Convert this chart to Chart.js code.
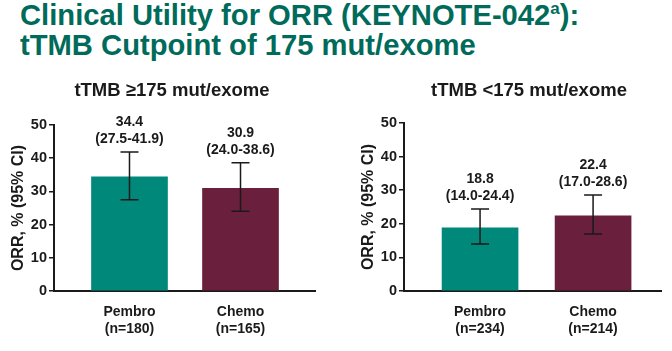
<!DOCTYPE html>
<html>
<head>
<meta charset="utf-8">
<script src="https://cdn.jsdelivr.net/npm/chart.js@4"></script>
<style>
  body { margin: 0; background: #fff; width: 672px; height: 351px; overflow: hidden; position: relative; }
  #title { position: absolute; left: 20px; top: 0px; color: #006b5b; font: bold 29.2px "Liberation Sans", Arial, sans-serif; line-height: 30px; white-space: nowrap; }
  #title sup { font-size: 17px; vertical-align: 11px; line-height: 0; }
  .box { position: absolute; top: 70px; width: 336px; height: 281px; }
</style>
</head>
<body>
<div id="title">Clinical Utility for ORR (KEYNOTE-042<sup>a</sup>):<br>tTMB Cutpoint of 175 mut/exome</div>
<div class="box" style="left:0"><canvas id="highChart"></canvas></div>
<div class="box" style="left:336px"><canvas id="lowChart"></canvas></div>
<script>
const armColors = ["#00897a", "#6a1f3c"];
const armPositions = [1, 2];

const highTitle = "tTMB \u2265175 mut/exome";
const highLabels = [["Pembro", "(n=180)"], ["Chemo", "(n=165)"]];
const highOrr = [34.4, 30.9];
const highLower = [27.5, 24.0];
const highUpper = [41.9, 38.6];

const lowTitle = "tTMB <175 mut/exome";
const lowLabels = [["Pembro", "(n=234)"], ["Chemo", "(n=214)"]];
const lowOrr = [18.8, 22.4];
const lowLower = [14.0, 17.0];
const lowUpper = [24.4, 28.6];

const yTicks = [0, 10, 20, 30, 40, 50];

const font = "'Liberation Sans', Arial, sans-serif";
const ink = "#1a1a1a";

// panel heading, whiskers and the "value (CI)" text above each bar
const errorBars = {
    id: "errorBars",
    afterDatasetsDraw(chart, args, opts) {
        const ctx = chart.ctx;
        const x = chart.scales.x, y = chart.scales.y;
        ctx.save();
        ctx.fillStyle = ink;
        ctx.textAlign = "center";
        ctx.textBaseline = "middle";
        ctx.font = "bold 18.5px " + font;
        ctx.fillText(opts.heading, opts.headingX, 21);

        ctx.strokeStyle = ink;
        ctx.lineWidth = 1.5;
        ctx.font = "bold 14px " + font;
        opts.values.forEach((v, i) => {
            const cx = x.getPixelForValue(armPositions[i]);
            const top = y.getPixelForValue(opts.upper[i]);
            const bot = y.getPixelForValue(opts.lower[i]);
            ctx.beginPath();
            ctx.moveTo(cx, top); ctx.lineTo(cx, bot);
            ctx.moveTo(cx - 9, top); ctx.lineTo(cx + 9, top);
            ctx.moveTo(cx - 9, bot); ctx.lineTo(cx + 9, bot);
            ctx.stroke();
            ctx.fillText(v.toFixed(1), cx, top - 30);
            ctx.fillText("(" + opts.lower[i].toFixed(1) + "-" + opts.upper[i].toFixed(1) + ")", cx, top - 13);
        });
        ctx.restore();
    }
};

function makeChart(id, title, titleX, labels, orr, lower, upper, xMin, xMax, pad) {
    new Chart(document.getElementById(id), {
        type: "bar",
        data: {
            datasets: [{
                data: orr.map((v, i) => ({ x: armPositions[i], y: v })),
                backgroundColor: armColors,
                barThickness: 76
            }]
        },
        options: {
            responsive: true,
            maintainAspectRatio: false,
            animation: false,
            layout: { padding: pad },
            plugins: {
                legend: { display: false },
                tooltip: { enabled: false },
                errorBars: { heading: title, headingX: titleX, values: orr, lower: lower, upper: upper }
            },
            scales: {
                x: {
                    type: "linear",
                    offset: false,
                    bounds: "data",
                    min: xMin,
                    max: xMax,
                    afterBuildTicks: s => { s.ticks = armPositions.map(p => ({ value: p })); },
                    afterFit: s => { s.height = 60; },
                    grid: { display: false, drawTicks: false },
                    border: { display: true, color: ink, width: 2 },
                    ticks: {
                        color: ink,
                        padding: 13,
                        maxRotation: 0,
                        font: { family: font, size: 14, weight: "bold" },
                        callback: (v, i) => labels[i]
                    }
                },
                y: {
                    min: 0,
                    max: 50,
                    afterBuildTicks: s => { s.ticks = yTicks.map(t => ({ value: t })); },
                    afterFit: s => { s.width = 54; },
                    grid: { drawOnChartArea: false, drawTicks: true, tickLength: 5, color: ink, lineWidth: 1.5 },
                    border: { display: true, color: ink, width: 2 },
                    title: {
                        display: true,
                        text: "ORR, % (95% CI)",
                        color: ink,
                        font: { family: font, size: 16, weight: "bold" },
                        padding: { top: 9, bottom: 0 }
                    },
                    ticks: {
                        color: ink,
                        padding: 2,
                        font: { family: font, size: 14.5, weight: "bold" }
                    }
                }
            }
        },
        plugins: [errorBars]
    });
}

makeChart("highChart", highTitle, 172, highLabels, highOrr, highLower, highUpper, 0.32, 2.671, { left: 0, right: 21, top: 55, bottom: 0 });
makeChart("lowChart", lowTitle, 193, lowLabels, lowOrr, lowLower, lowUpper, 0.327, 2.601, { left: 14, right: 11, top: 53, bottom: 0 });
</script>
</body>
</html>
